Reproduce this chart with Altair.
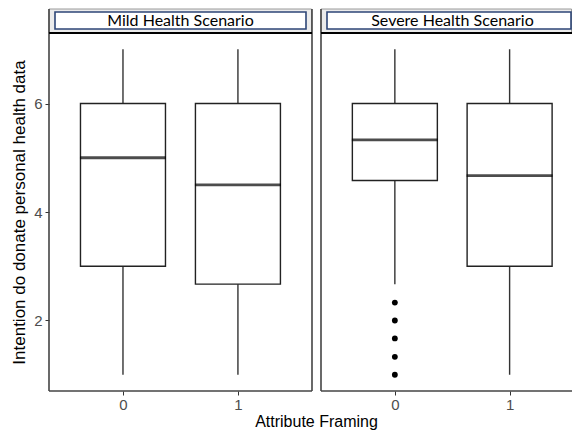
import altair as alt
import pandas as pd

scenarios = ["Mild Health Scenario", "Severe Health Scenario"]
framing = [0, 1]
lower_whisker = [[1.0, 1.0], [2.67, 1.0]]
q1 = [[3.0, 2.67], [4.58, 3.0]]
median = [[5.0, 4.5], [5.33, 4.67]]
q3 = [[6.0, 6.0], [6.0, 6.0]]
upper_whisker = [[7.0, 7.0], [7.0, 7.0]]
outlier_scenario = ["Severe Health Scenario"] * 5
outlier_framing = [0, 0, 0, 0, 0]
outlier_values = [2.33, 2.0, 1.67, 1.33, 1.0]

rows = []
for i, s in enumerate(scenarios):
    for j, f in enumerate(framing):
        rows.append(dict(scenario=s, framing=f, lo=lower_whisker[i][j], q1=q1[i][j],
                         med=median[i][j], q3=q3[i][j], hi=upper_whisker[i][j]))
box_df = pd.DataFrame(rows)
out_df = pd.DataFrame(dict(scenario=outlier_scenario, framing=outlier_framing, value=outlier_values))

H = 358
WIDTHS = [263, 252]
PX_PER_UNIT = 119.5
BOXW = 85
YDOM = [0.7, 7.3]
FRAME = "#444444"


def panel(i):
    s = scenarios[i]
    W = WIDTHS[i]
    d = box_df[box_df.scenario == s]
    o = out_df[out_df.scenario == s]
    xdom = [-0.6, -0.6 + W / PX_PER_UNIT]
    common = dict(values=[0, 1], format="d", grid=False, tickColor="#333333", tickSize=4,
                  labelColor="#4D4D4D", labelFontSize=15, labelPadding=2, domain=False,
                  labelFont="Liberation Sans")
    if i == 0:
        xaxis = alt.Axis(title="Attribute Framing", titleX=267, titleFontSize=16,
                         titleFont="Liberation Sans", titleFontWeight="normal",
                         titleColor="black", titlePadding=1, **common)
        yaxis = alt.Axis(values=[2, 4, 6], grid=False, tickColor="#333333", tickSize=4,
                         labelColor="#4D4D4D", labelFontSize=15, labelPadding=3,
                         domain=False, labelFont="Liberation Sans",
                         title="Intention do donate personal health data",
                         titleFontSize=17, titleFont="Liberation Sans", titleFontWeight="normal",
                         titleColor="black", titlePadding=5)
    else:
        xaxis = alt.Axis(title=None, **common)
        yaxis = None
    x = alt.X("framing:Q", scale=alt.Scale(domain=xdom, nice=False, zero=False), axis=xaxis)
    yscale = alt.Scale(domain=YDOM, nice=False, zero=False)
    base = alt.Chart(d)
    whisk = base.mark_rule(color="#333333", strokeWidth=1.4).encode(
        x=x, y=alt.Y("lo:Q", scale=yscale, axis=yaxis), y2="hi:Q")
    box = base.mark_bar(size=BOXW, fill="white", stroke="#222222", strokeWidth=1.4).encode(
        x=x, y=alt.Y("q1:Q", scale=yscale, axis=yaxis), y2="q3:Q")
    med = base.mark_tick(orient="horizontal", size=BOXW + 1, thickness=2.8, color="black").encode(
        x=x, y=alt.Y("med:Q", scale=yscale, axis=yaxis))
    layers = [whisk, box, med]
    if len(o):
        pts = alt.Chart(o).mark_circle(size=34, color="black", opacity=1).encode(
            x=x, y=alt.Y("value:Q", scale=yscale, axis=yaxis))
        layers.append(pts)
    lab = pd.DataFrame(dict(label=[s]))
    sb = alt.Chart(lab)
    right = W if i == 0 else W - 1
    layers.append(sb.mark_rule(color=FRAME, strokeWidth=1.6).encode(
        x=alt.value(0), y=alt.value(-24), y2=alt.value(H)))
    layers.append(sb.mark_rule(color=FRAME, strokeWidth=1.6).encode(
        x=alt.value(0), x2=alt.value(right), y=alt.value(H)))
    if i == 0:
        layers.append(sb.mark_rule(color=FRAME, strokeWidth=1.6).encode(
            x=alt.value(W), y=alt.value(-24), y2=alt.value(H)))
    right_inner = W - 6 if i == 0 else W - 2
    strip_outer = sb.mark_rect(fill="#EBEBEB", stroke="#9A9A9A", strokeWidth=1).encode(
        x=alt.value(0), x2=alt.value(right - 0.5), y=alt.value(-24), y2=alt.value(0))
    strip_inner = sb.mark_rect(fill="white", stroke="#2E4677", strokeWidth=1.6).encode(
        x=alt.value(6), x2=alt.value(right_inner), y=alt.value(-21), y2=alt.value(-4))
    cx = W / 2 if i == 0 else 131.5
    strip_text = sb.mark_text(font="Lato", fontSize=16, color="black", baseline="middle").encode(
        x=alt.value(cx), y=alt.value(-12.5), text="label:N")
    strip_line = sb.mark_rule(color="black", strokeWidth=2.2).encode(
        x=alt.value(0), x2=alt.value(right), y=alt.value(0))
    layers = [strip_outer, strip_inner, strip_text] + layers + [strip_line]
    return alt.layer(*layers).properties(width=W, height=H)


chart = alt.hconcat(panel(0), panel(1), spacing=9, bounds="flush").configure_view(
    stroke=None
).properties(padding={"left": 2, "top": 0, "right": 0, "bottom": 8})

chart.save("out.html", embed_options={"renderer": "svg", "actions": False})
